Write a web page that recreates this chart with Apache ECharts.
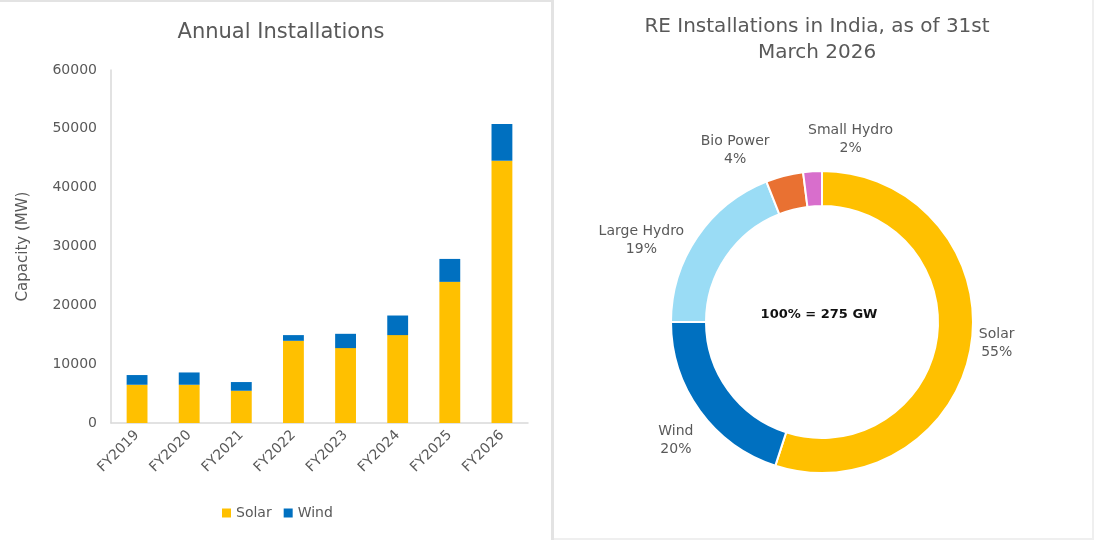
<!DOCTYPE html>
<html>
<head>
<meta charset="utf-8">
<script src="https://cdn.jsdelivr.net/npm/echarts@6/dist/echarts.min.js"></script>
<style>
html,body{margin:0;padding:0;background:#fff;}
#chart{width:1094px;height:540px;}
</style>
</head>
<body>
<div id="chart"></div>
<script>
const categories = ['FY2019','FY2020','FY2021','FY2022','FY2023','FY2024','FY2025','FY2026'];
const solarValues = [6500, 6500, 5480, 13970, 12730, 14940, 23990, 44580];
const windValues = [1650, 2090, 1480, 970, 2430, 3330, 3900, 6240];
const yTicks = [0, 10000, 20000, 30000, 40000, 50000, 60000];
const mixNames = ['Solar', 'Wind', 'Large Hydro', 'Bio Power', 'Small Hydro'];
const mixShares = [55, 20, 19, 4, 2];

const FONT = '"DejaVu Sans", "Noto Sans", sans-serif';
const GRAY = '#595959';
const mixColors = ['#FFC000', '#0070C0', '#9ADCF5', '#E97132', '#D86ECC'];

// pie geometry (style)
const PIE_CENTER = [822, 322];
const PIE_RADIUS = [116, 151];
// label placement tweaks (style): distance from centre and angular nudge in degrees
const labelDist = [176, 188, 198, 192, 185];
const labelNudge = [-2, -3, -10, -12.5, 12.5];

const totalShare = mixShares.reduce((a, b) => a + b, 0);
const midAngles = [];
{
  let acc = 0;
  mixShares.forEach(v => { midAngles.push(-90 + (acc + v / 2) / totalShare * 360); acc += v; });
}

const chart = echarts.init(document.getElementById('chart'));
chart.setOption({
  backgroundColor: '#fff',
  textStyle: { fontFamily: FONT },
  animation: false,
  graphic: [
    { type: 'rect', shape: { x: 0, y: 0, width: 552, height: 2 }, style: { fill: '#e3e3e3' }, silent: true },
    { type: 'rect', shape: { x: 551, y: 0, width: 3, height: 540 }, style: { fill: '#e3e3e3' }, silent: true },
    { type: 'rect', shape: { x: 1092, y: 0, width: 2, height: 540 }, style: { fill: '#efefef' }, silent: true },
    { type: 'rect', shape: { x: 554, y: 538, width: 540, height: 2 }, style: { fill: '#efefef' }, silent: true }
  ],
  title: [
    { text: 'Annual Installations', left: 276, top: 17, textAlign: 'center',
      textStyle: { fontFamily: FONT, fontSize: 21, fontWeight: 'normal', color: GRAY } },
    { text: 'RE Installations in India, as of 31st\nMarch 2026', left: 812, top: 9, textAlign: 'center',
      textStyle: { fontFamily: FONT, fontSize: 20, fontWeight: 'normal', color: GRAY, lineHeight: 26 } },
    { text: '100% = 275 GW', left: 814, top: 303, textAlign: 'center',
      textStyle: { fontFamily: FONT, fontSize: 13, fontWeight: 'bold', color: '#111' } }
  ],
  legend: {
    data: ['Solar', 'Wind'],
    left: 217, top: 501,
    icon: 'rect', itemWidth: 9, itemHeight: 9, itemGap: 12,
    textStyle: { fontFamily: FONT, fontSize: 14, color: GRAY }
  },
  grid: { left: 111, top: 70, width: 417, height: 353 },
  xAxis: {
    type: 'category', data: categories,
    axisLine: { lineStyle: { color: '#d9d9d9', width: 1.5 } },
    axisTick: { show: false },
    axisLabel: { rotate: 45, color: GRAY, fontSize: 14, fontFamily: FONT, margin: 10 }
  },
  yAxis: {
    type: 'value', min: yTicks[0], max: yTicks[yTicks.length - 1], interval: yTicks[1] - yTicks[0],
    name: 'Capacity (MW)', nameLocation: 'middle', nameGap: 80, nameRotate: 90,
    nameTextStyle: { color: GRAY, fontSize: 15, fontFamily: FONT },
    axisLine: { show: true, lineStyle: { color: '#d9d9d9', width: 1.5 } },
    axisTick: { show: false },
    splitLine: { show: false },
    axisLabel: { color: GRAY, fontSize: 14, fontFamily: FONT, margin: 14, formatter: v => String(v) }
  },
  series: [
    { name: 'Solar', type: 'bar', stack: 'total', data: solarValues, barWidth: '40%',
      itemStyle: { color: '#FFC000' } },
    { name: 'Wind', type: 'bar', stack: 'total', data: windValues, barWidth: '40%',
      itemStyle: { color: '#0070C0' } },
    {
      name: 'RE Mix', type: 'pie', center: PIE_CENTER, radius: PIE_RADIUS,
      startAngle: 90, clockwise: true, avoidLabelOverlap: false,
      itemStyle: { borderColor: '#fff', borderWidth: 2 },
      label: {
        show: true, position: 'outside',
        formatter: '{a|{b}}\n{a|{d}%}',
        rich: { a: { align: 'center', color: GRAY, fontSize: 14, fontFamily: FONT, lineHeight: 18 } }
      },
      labelLine: { show: false },
      labelLayout: function (p) {
        const i = p.dataIndex;
        const a = (midAngles[i] + labelNudge[i]) * Math.PI / 180;
        return {
          x: PIE_CENTER[0] + labelDist[i] * Math.cos(a),
          y: PIE_CENTER[1] + labelDist[i] * Math.sin(a),
          align: 'center', verticalAlign: 'middle'
        };
      },
      emphasis: { disabled: true },
      data: mixNames.map((n, i) => ({ name: n, value: mixShares[i], itemStyle: { color: mixColors[i] } }))
    }
  ]
});
</script>
</body>
</html>
